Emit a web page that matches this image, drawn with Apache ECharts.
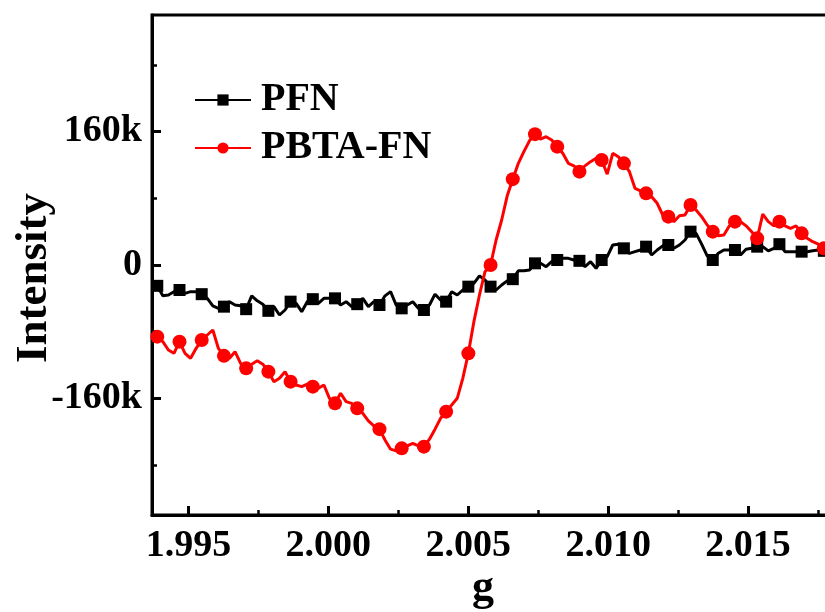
<!DOCTYPE html>
<html>
<head>
<meta charset="utf-8">
<script src="https://cdn.jsdelivr.net/npm/echarts@6/dist/echarts.min.js"></script>
<style>
  html, body { margin: 0; padding: 0; background: #ffffff; }
  #chart { width: 825px; height: 612px; }
</style>
</head>
<body>
<div id="chart"></div>
<script>
// ---- data (intensity in units of k) ----
// sampling grid of g: start and step of the recorded spectrum
const gStart = 1.99369;
const gStep = 0.0001985;

const seriesNames = ['PFN', 'PBTA-FN'];

const pfn = [
  -22, -25, -37, -36, -32, -30, -34, -32, -32, -35,
  -40, -49, -52, -50, -44, -48, -49, -53, -37, -43,
  -47, -55, -50, -60, -54, -44, -46, -56, -44, -41,
  -46, -40, -40, -40, -48, -44, -50, -47, -40, -50,
  -44, -48, -37, -32, -48, -52, -48, -44, -52, -54,
  -48, -35, -42, -44, -32, -36, -30, -26, -22, -13,
  -18, -26, -30, -24, -19, -17, -7, -7, -6, 2,
  2, -2, 4, 6, 8, 8, 6, 5, -2, 4,
  -4, 6, 10, 24, 25, 20, 14, 16, 18, 22,
  12, 18, 23, 24, 20, 24, 30, 40, 38, 25,
  11, 6, 14, 18, 18, 18, 12, 19, 20, 22,
  22, 17, 20, 25, 16, 16, 16, 16, 16, 17,
  18, 17, 17
];

const pbtaFn = [
  -85, -86, -92, -102, -106, -92, -106, -112, -100, -90,
  -84, -78, -100, -109, -112, -104, -118, -124, -119, -115,
  -119, -128, -140, -136, -128, -140, -144, -146, -143, -146,
  -148, -144, -160, -166, -154, -164, -166, -172, -178, -187,
  -193, -197, -210, -221, -223, -220, -217, -214, -217, -218,
  -209, -197, -184, -176, -168, -160, -136, -106, -68, -36,
  -8, 0, 30, 54, 83, 103, 122, 136, 149, 157,
  151, 154, 150, 142, 134, 122, 119, 112, 119, 124,
  128, 126, 109, 134, 130, 122, 112, 92, 89, 86,
  82, 74, 60, 58, 52, 59, 60, 72, 66, 58,
  48, 40, 35, 36, 47, 52, 52, 47, 40, 32,
  61, 52, 47, 52, 47, 44, 47, 38, 32, 28,
  25, 20, 18
];

const xMajorTicks = [1.995, 2.000, 2.005, 2.010, 2.015];
const xMinorTicks = [1.9975, 2.0025, 2.0075, 2.0125, 2.0175];
const yMajorTicks = [-160, 0, 160];
const yMinorTicks = [-240, -80, 80, 240];
const markerEvery = 4;   // a marker on every 4th recorded point
const markerOffset = 1;

// ---- build ----
function pairs(vals) {
  return vals.map((v, i) => [gStart + i * gStep, v]);
}
const FONT = "'Liberation Serif', 'Times New Roman', serif";
const isMarker = (params) => (params.dataIndex % markerEvery) === markerOffset;

const chart = echarts.init(document.getElementById('chart'), null, { renderer: 'canvas' });

const option = {
  backgroundColor: '#ffffff',
  animation: false,
  grid: {
    left: 152, top: 15, width: 680, height: 500,
    containLabel: false, outerBoundsMode: 'none',
    show: true, borderColor: '#000', borderWidth: 3, backgroundColor: 'transparent'
  },
  legend: {
    orient: 'vertical',
    left: 189, top: 75,
    itemWidth: 56, itemHeight: 14, itemGap: 8,
    data: seriesNames,
    textStyle: {
      fontFamily: FONT, fontWeight: 'bold', fontSize: 40, color: '#000',
      lineHeight: 40, padding: [0, 0, 0, 5]
    }
  },
  xAxis: [
    {
      type: 'value', min: 1.9937, max: 2.018, position: 'bottom',
      name: 'g', nameLocation: 'middle', nameGap: 52, nameMoveOverlap: false,
      nameTextStyle: { fontFamily: FONT, fontWeight: 'bold', fontSize: 44, color: '#000', padding: [0, 18, 0, 0] },
      axisLine: { show: true, onZero: false, lineStyle: { color: '#000', width: 3 } },
      axisTick: { show: true, inside: true, length: 9, customValues: xMajorTicks, lineStyle: { color: '#000', width: 3 } },
      axisLabel: {
        show: true, customValues: xMajorTicks, margin: 12,
        fontFamily: FONT, fontWeight: 'bold', fontSize: 38, color: '#000',
        formatter: (v) => v.toFixed(3)
      },
      splitLine: { show: false }
    },
    {
      type: 'value', min: 1.9937, max: 2.018, position: 'bottom', offset: 0,
      axisLine: { show: false, onZero: false },
      axisTick: { show: true, inside: true, length: 5, customValues: xMinorTicks, lineStyle: { color: '#000', width: 2.5 } },
      axisLabel: { show: false },
      splitLine: { show: false }
    }
  ],
  yAxis: [
    {
      type: 'value', min: -300, max: 300, position: 'left',
      name: 'Intensity', nameLocation: 'middle', nameGap: 95, nameMoveOverlap: false,
      nameTextStyle: { fontFamily: FONT, fontWeight: 'bold', fontSize: 45, color: '#000', padding: [0, 26, 0, 0] },
      axisLine: { show: true, onZero: false, lineStyle: { color: '#000', width: 3 } },
      axisTick: { show: true, inside: true, length: 9, customValues: yMajorTicks, lineStyle: { color: '#000', width: 3 } },
      axisLabel: {
        show: true, customValues: yMajorTicks, margin: 10,
        fontFamily: FONT, fontWeight: 'bold', fontSize: 38, color: '#000',
        formatter: (v) => (v === 0 ? '0' : v + 'k')
      },
      splitLine: { show: false }
    },
    {
      type: 'value', min: -300, max: 300, position: 'left', offset: 0,
      axisLine: { show: false, onZero: false },
      axisTick: { show: true, inside: true, length: 5, customValues: yMinorTicks, lineStyle: { color: '#000', width: 2.5 } },
      axisLabel: { show: false },
      splitLine: { show: false }
    }
  ],
  series: [
    {
      name: 'PFN', type: 'line', xAxisIndex: 0, yAxisIndex: 0,
      data: pairs(pfn),
      color: '#000000',
      lineStyle: { color: '#000000', width: 3 },
      itemStyle: { color: '#000000' },
      symbol: 'rect',
      symbolSize: (val, params) => (isMarker(params) ? 12 : 0),
      showAllSymbol: true,
      z: 2
    },
    {
      name: 'PBTA-FN', type: 'line', xAxisIndex: 0, yAxisIndex: 0,
      data: pairs(pbtaFn),
      color: '#ff0000',
      lineStyle: { color: '#ff0000', width: 3 },
      itemStyle: { color: '#ff0000' },
      symbol: 'circle',
      symbolSize: (val, params) => (isMarker(params) ? 14 : 0),
      showAllSymbol: true,
      z: 3
    }
  ]
};
chart.setOption(option);
</script>
</body>
</html>
